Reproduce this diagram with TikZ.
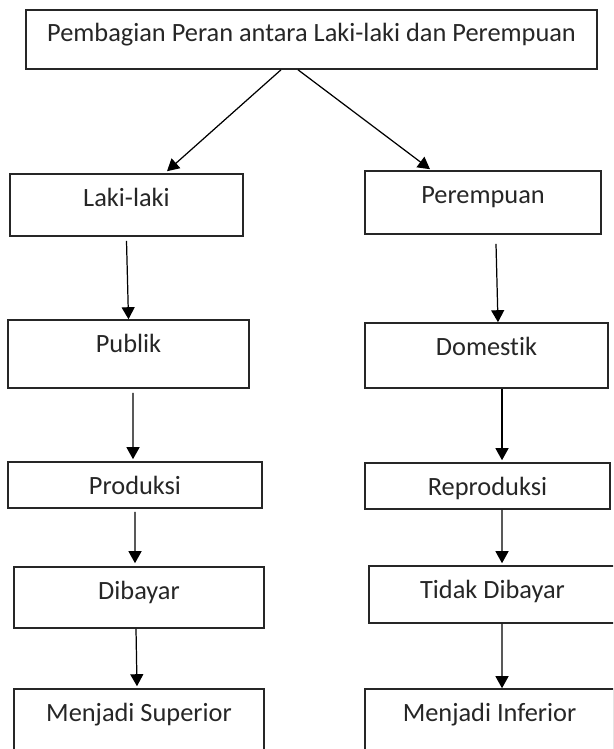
\documentclass[tikz,border=0pt]{standalone}
\usepackage{fontspec}
\setmainfont{Carlito}[Ligatures=NoCommon]
\usepackage{tikz}
\usetikzlibrary{arrows.meta,positioning}

\begin{document}
\begin{tikzpicture}[
    >={Triangle[length=2.4mm,width=2.6mm]},
    box/.style={
      rectangle, draw=black!85, line width=0.9pt, inner sep=0pt,
      text height=6.4mm, text=black!85,
      font=\fontsize{15}{18}\selectfont
    },
    flow/.style={->, line width=0.7pt, black}
  ]
  \clip (0,0) rectangle (12.26,-14.98);

  \node[box, minimum width=11.42cm, text depth=5.4mm] (top) at (6.23,-0.79)
    {Pembagian Peran antara Laki-laki dan Perempuan};

  \node[box, minimum width=4.66cm, text depth=6.0mm] (laki) at (2.53,-4.10) {Laki-laki};
  \node[box, minimum width=4.82cm, text depth=7.2mm] (publik) at (2.57,-7.08) {Publik};
  \node[box, minimum width=5.08cm, text depth=2.8mm] (produksi) at (2.70,-9.70) {Produksi};
  \node[box, minimum width=5.00cm, text depth=5.8mm] (dibayar) at (2.78,-11.95) {Dibayar};
  \node[box, minimum width=5.00cm, text depth=9.6mm] (superior) at (2.78,-14.58) {Menjadi Superior};

  \node[box, minimum width=4.72cm, text depth=6.2mm] (perempuan) at (9.66,-4.05) {Perempuan};
  \node[box, minimum width=4.86cm, text depth=6.6mm] (domestik) at (9.73,-7.11) {Domestik};
  \node[box, minimum width=4.90cm, text depth=2.8mm] (reproduksi) at (9.75,-9.72) {Reproduksi};
  \node[box, minimum width=4.94cm, text depth=5.0mm] (tidak) at (9.85,-11.89) {Tidak Dibayar};
  \node[box, minimum width=4.98cm, text depth=9.6mm] (inferior) at (9.79,-14.58) {Menjadi Inferior};

  \draw[flow] ([xshift=-0.61cm]top.south) -- ([xshift=0.81cm,yshift=0.04cm]laki.north);
  \draw[flow] ([xshift=-0.27cm]top.south) -- ([xshift=-1.06cm,yshift=0.02cm]perempuan.north);

  \draw[flow] ([yshift=-0.08cm]laki.south) -- (publik.north);
  \draw[flow] ([xshift=0.09cm,yshift=-0.08cm]publik.south) -- ([xshift=-0.04cm,yshift=0.04cm]produksi.north);
  \draw[flow] ([yshift=-0.06cm]produksi.south) -- ([xshift=-0.08cm,yshift=0.06cm]dibayar.north);
  \draw[flow] ([xshift=-0.06cm]dibayar.south) -- ([xshift=-0.04cm,yshift=0.04cm]superior.north);

  \draw[flow] ([xshift=0.26cm,yshift=-0.18cm]perempuan.south) -- ([xshift=0.23cm]domestik.north);
  \draw[flow] ([xshift=0.31cm]domestik.south) -- ([xshift=0.29cm,yshift=0.04cm]reproduksi.north);
  \draw[flow] ([xshift=0.29cm]reproduksi.south) -- ([xshift=0.19cm,yshift=0.04cm]tidak.north);
  \draw[flow] ([xshift=0.19cm]tidak.south) -- ([xshift=0.25cm]inferior.north);
\end{tikzpicture}
\end{document}
